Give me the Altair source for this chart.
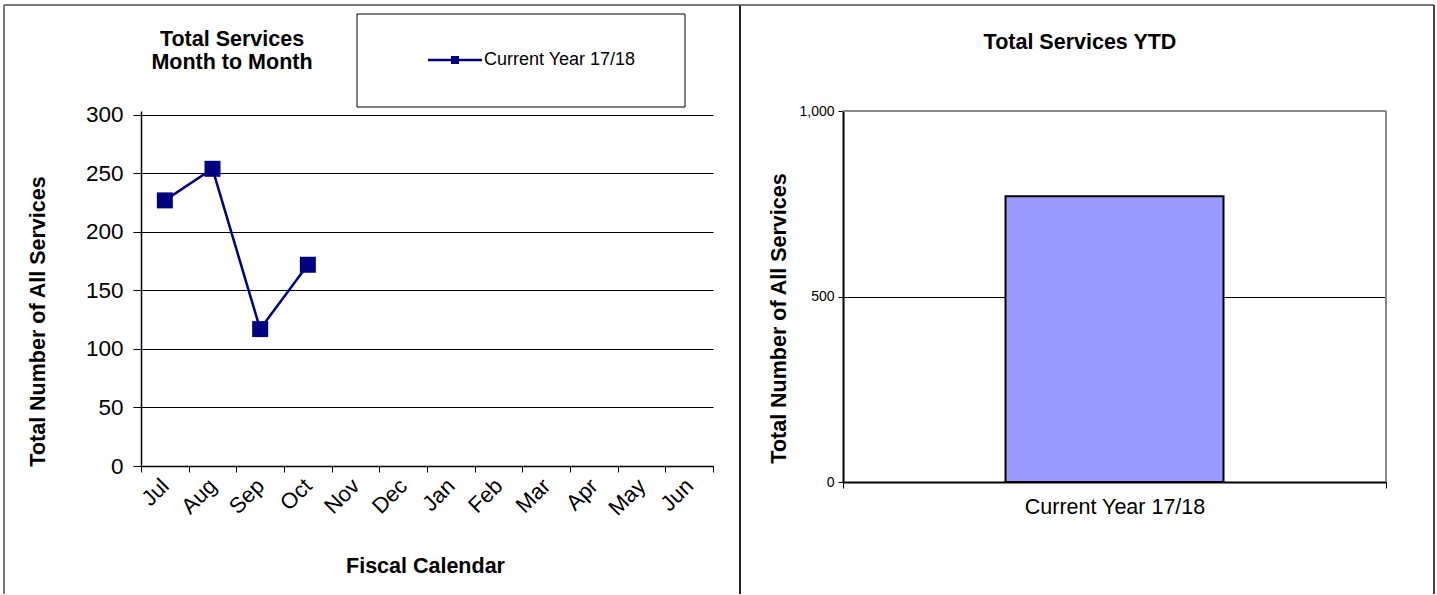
import altair as alt
import pandas as pd

# ---------------- data ----------------
months = ["Jul", "Aug", "Sep", "Oct", "Nov", "Dec", "Jan", "Feb", "Mar", "Apr", "May", "Jun"]
monthly_services = [227, 254, 117, 172, None, None, None, None, None, None, None, None]
series_name = "Current Year 17/18"
ytd_labels = ["Current Year 17/18"]
ytd_totals = [770]
monthly_ticks = [0, 50, 100, 150, 200, 250, 300]
ytd_ticks = [0, 500, 1000]

left_title = ["Total Services", "Month to Month"]
right_title = "Total Services YTD"
y_title = "Total Number of All Services"
x_title = "Fiscal Calendar"

FONT = "Liberation Sans"
NAVY = "#000080"
TITLE_SIZE = 21.5

monthly_df = pd.DataFrame({"month": months, "services": monthly_services})
ytd_df = pd.DataFrame({"label": ytd_labels, "total": ytd_totals})
one = alt.Data(values=[{"k": 0}])

# ---------------- left panel ----------------
LW, LH = 572, 355

x_month = alt.X(
    "month:N",
    scale=alt.Scale(type="band", domain=months, paddingInner=0, paddingOuter=0),
    bandPosition=0.5,
    axis=alt.Axis(
        title=x_title, titleFontSize=TITLE_SIZE, titleFontWeight="bold",
        titleX=284, titleY=100, titleAlign="center", titleBaseline="middle",
        labelAngle=-45, labelAlign="right", labelBaseline="middle",
        labelFontSize=22, labelPadding=10, tickBand="extent", tickSize=6,
        grid=False,
    ),
)
y_month = alt.Y(
    "services:Q",
    scale=alt.Scale(domain=[0, 303.4], nice=False, zero=True),
    axis=alt.Axis(
        values=monthly_ticks, title=y_title, titleFontSize=TITLE_SIZE, titleFontWeight="bold",
        titleAngle=270, titleX=-103, titleY=210, titleAlign="center", titleBaseline="middle",
        labelFontSize=22.5, labelPadding=10, tickSize=8, grid=True,
    ),
)

line = alt.Chart(monthly_df).mark_line(color=NAVY, strokeWidth=2.5).encode(x=x_month, y=y_month)
pts = alt.Chart(monthly_df).mark_point(
    shape="square", filled=True, size=256, color=NAVY, opacity=1
).encode(x=x_month, y=y_month)

deco = alt.Chart(one)
l_top = deco.mark_rule(color="#777777", strokeWidth=2).encode(
    x=alt.value(-137), x2=alt.value(599), y=alt.value(-106))
l_left = deco.mark_rule(color="#777777", strokeWidth=2).encode(
    x=alt.value(-137), y=alt.value(-106), y2=alt.value(483))
l_right = deco.mark_rule(color="#222222", strokeWidth=2).encode(
    x=alt.value(599), y=alt.value(-106), y2=alt.value(483))

leg_box = deco.mark_rect(fill="white", stroke="black", strokeWidth=1).encode(
    x=alt.value(216), x2=alt.value(544), y=alt.value(-97), y2=alt.value(-4))
leg_line = deco.mark_rule(color=NAVY, strokeWidth=2.5).encode(
    x=alt.value(287), x2=alt.value(341), y=alt.value(-51))
leg_sym = deco.mark_point(shape="square", filled=True, size=64, color=NAVY, opacity=1).encode(
    x=alt.value(314), y=alt.value(-51))
leg_text = deco.mark_text(align="left", baseline="middle", fontSize=18, font=FONT, color="black").encode(
    x=alt.value(343), y=alt.value(-51), text=alt.value(series_name))

lt1 = deco.mark_text(align="center", baseline="middle", fontSize=TITLE_SIZE, fontWeight="bold", font=FONT).encode(
    x=alt.value(91), y=alt.value(-71), text=alt.value(left_title[0]))
lt2 = deco.mark_text(align="center", baseline="middle", fontSize=TITLE_SIZE, fontWeight="bold", font=FONT).encode(
    x=alt.value(91), y=alt.value(-48), text=alt.value(left_title[1]))

left = alt.layer(
    l_top, l_left, l_right, leg_box, leg_line, leg_sym, leg_text, lt1, lt2, line, pts
).properties(width=LW, height=LH)

# ---------------- right panel ----------------
RW, RH = 543, 371

bar = alt.Chart(ytd_df).mark_bar(size=218, color="#9999FF", stroke="black", strokeWidth=2).encode(
    x=alt.X(
        "label:N", scale=alt.Scale(type="band", domain=ytd_labels, paddingInner=0, paddingOuter=0),
        axis=alt.Axis(title=None, labelAngle=0, labelFontSize=21.5, labelPadding=8, labelLimit=0,
                      tickBand="extent", tickSize=6, grid=False, domainWidth=2),
    ),
    y=alt.Y(
        "total:Q", scale=alt.Scale(domain=[0, 1000], nice=False),
        axis=alt.Axis(values=ytd_ticks, format=",.0f", labelFontSize=14, labelPadding=4, tickSize=5,
                      grid=True, title=y_title, titleFontSize=TITLE_SIZE, titleFontWeight="bold",
                      titleAngle=270, titleX=-64, titleY=207, titleAlign="center",
                      titleBaseline="middle", domainWidth=2),
    ),
)

r_frame_top = deco.mark_rule(color="#888888", strokeWidth=2).encode(
    x=alt.value(0), x2=alt.value(RW), y=alt.value(0))
r_frame_right = deco.mark_rule(color="#888888", strokeWidth=2).encode(
    x=alt.value(RW), y=alt.value(0), y2=alt.value(RH))
r_top = deco.mark_rule(color="#777777", strokeWidth=2).encode(
    x=alt.value(-103), x2=alt.value(591), y=alt.value(-106))
r_right = deco.mark_rule(color="#444444", strokeWidth=2).encode(
    x=alt.value(591), y=alt.value(-106), y2=alt.value(483))
rt = deco.mark_text(align="center", baseline="middle", fontSize=TITLE_SIZE, fontWeight="bold", font=FONT).encode(
    x=alt.value(237), y=alt.value(-68), text=alt.value(right_title))

right = alt.layer(r_top, r_right, rt, r_frame_top, r_frame_right, bar).properties(width=RW, height=RH)

chart = alt.hconcat(left, right, spacing=130, bounds="flush").properties(
    padding={"left": 3, "top": 4, "right": 0, "bottom": 0}
).configure_view(stroke=None).configure_axis(
    labelFont=FONT, titleFont=FONT, labelColor="black", titleColor="black",
    domainColor="black", tickColor="black", gridColor="black", gridWidth=1,
    domainWidth=1.5,
)

chart.save("out.html", embed_options={"renderer": "svg", "actions": False})
